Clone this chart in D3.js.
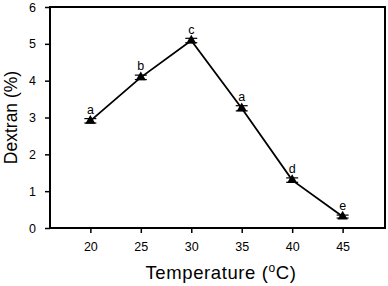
<!DOCTYPE html>
<html>
<head>
<meta charset="utf-8">
<script src="https://cdn.jsdelivr.net/npm/d3@7"></script>
<style>
  body { margin: 0; background: #fff; }
  text { font-family: Arial, "Liberation Sans", sans-serif; fill: #000; }
</style>
</head>
<body>
<script>
//chart data
var temps = [20, 25, 30, 35, 40, 45];
var dextran = [2.91, 4.09, 5.09, 3.25, 1.30, 0.31];
var errs = [0.06, 0.06, 0.06, 0.07, 0.06, 0.04];
var letters = ["a", "b", "c", "a", "d", "e"];
var yTicks = [0, 1, 2, 3, 4, 5, 6];

(function(){
var width = 388, height = 286;
var pLeft = 50, pRight = 385, pTop = 7, pBottom = 228;
var font = "Arial, 'Liberation Sans', sans-serif";

var svg = d3.select("body").append("svg")
    .attr("width", width)
    .attr("height", height);

var x = d3.scaleLinear().domain([16, 49.2]).range([pLeft, pRight]);
var y = d3.scaleLinear().domain([0, 6]).range([pBottom, pTop]);

//x axis
svg.append("g")
    .attr("transform", "translate(0," + pBottom + ")")
    .call(d3.axisBottom(x).tickValues(temps).tickSize(5).tickPadding(9))
    .call(function(g){
        g.select(".domain").remove();
        g.selectAll("line").attr("stroke-width", 1.5);
        g.selectAll("text").attr("font-size", 12.5).attr("font-family", font).attr("fill", "#000");
    });

//y axis
svg.append("g")
    .attr("transform", "translate(" + pLeft + ",0)")
    .call(d3.axisLeft(y).tickValues(yTicks).tickFormat(d3.format("d")).tickSize(5).tickPadding(9))
    .call(function(g){
        g.select(".domain").remove();
        g.selectAll("line").attr("stroke-width", 1.5);
        g.selectAll("text").attr("font-size", 12.5).attr("font-family", font).attr("fill", "#000");
    });

//frame
svg.append("rect")
    .attr("x", pLeft).attr("y", pTop)
    .attr("width", pRight - pLeft).attr("height", pBottom - pTop)
    .attr("fill", "none").attr("stroke", "#000").attr("stroke-width", 2);

//line
var line = d3.line()
    .x(function(d, i){ return x(temps[i]); })
    .y(function(d){ return y(d); });

svg.append("path")
    .datum(dextran)
    .attr("d", line)
    .attr("fill", "none")
    .attr("stroke", "#000")
    .attr("stroke-width", 1.8);

//error bars
var eb = svg.selectAll(".err").data(dextran).enter().append("g").attr("class", "err");
eb.append("line")
    .attr("x1", function(d, i){ return x(temps[i]); })
    .attr("x2", function(d, i){ return x(temps[i]); })
    .attr("y1", function(d, i){ return y(d + errs[i]); })
    .attr("y2", function(d, i){ return y(d - errs[i]); })
    .attr("stroke", "#000").attr("stroke-width", 1.2);
[1, -1].forEach(function(s){
    eb.append("line")
        .attr("x1", function(d, i){ return x(temps[i]) - 6; })
        .attr("x2", function(d, i){ return x(temps[i]) + 6; })
        .attr("y1", function(d, i){ return y(d + s * errs[i]); })
        .attr("y2", function(d, i){ return y(d + s * errs[i]); })
        .attr("stroke", "#000").attr("stroke-width", 1.2);
});

//triangle markers
svg.selectAll(".pt").data(dextran).enter().append("path")
    .attr("class", "pt")
    .attr("d", d3.symbol().type(d3.symbolTriangle).size(45))
    .attr("transform", function(d, i){ return "translate(" + x(temps[i]) + "," + y(d) + ")"; })
    .attr("fill", "#000");

//significance letters
svg.selectAll(".lbl").data(dextran).enter().append("text")
    .attr("class", "lbl")
    .attr("x", function(d, i){ return x(temps[i]); })
    .attr("y", function(d){ return y(d) - 7; })
    .attr("text-anchor", "middle")
    .attr("font-size", 12.5)
    .attr("fill", "#000")
    .text(function(d, i){ return letters[i]; });

//axis titles
svg.append("text")
    .attr("transform", "translate(17," + ((pTop + pBottom) / 2) + ") rotate(-90)")
    .attr("text-anchor", "middle")
    .attr("font-size", 17.5)
    .attr("fill", "#000")
    .text("Dextran (%)");

var xt = svg.append("text")
    .attr("x", 221)
    .attr("y", 279)
    .attr("text-anchor", "middle")
    .attr("font-size", 18.5)
    .attr("letter-spacing", 0.6)
    .attr("fill", "#000");
xt.append("tspan").text("Temperature (");
xt.append("tspan").attr("font-size", 12).attr("dy", -7).text("o");
xt.append("tspan").attr("dy", 7).text("C)");
})();
</script>
</body>
</html>
